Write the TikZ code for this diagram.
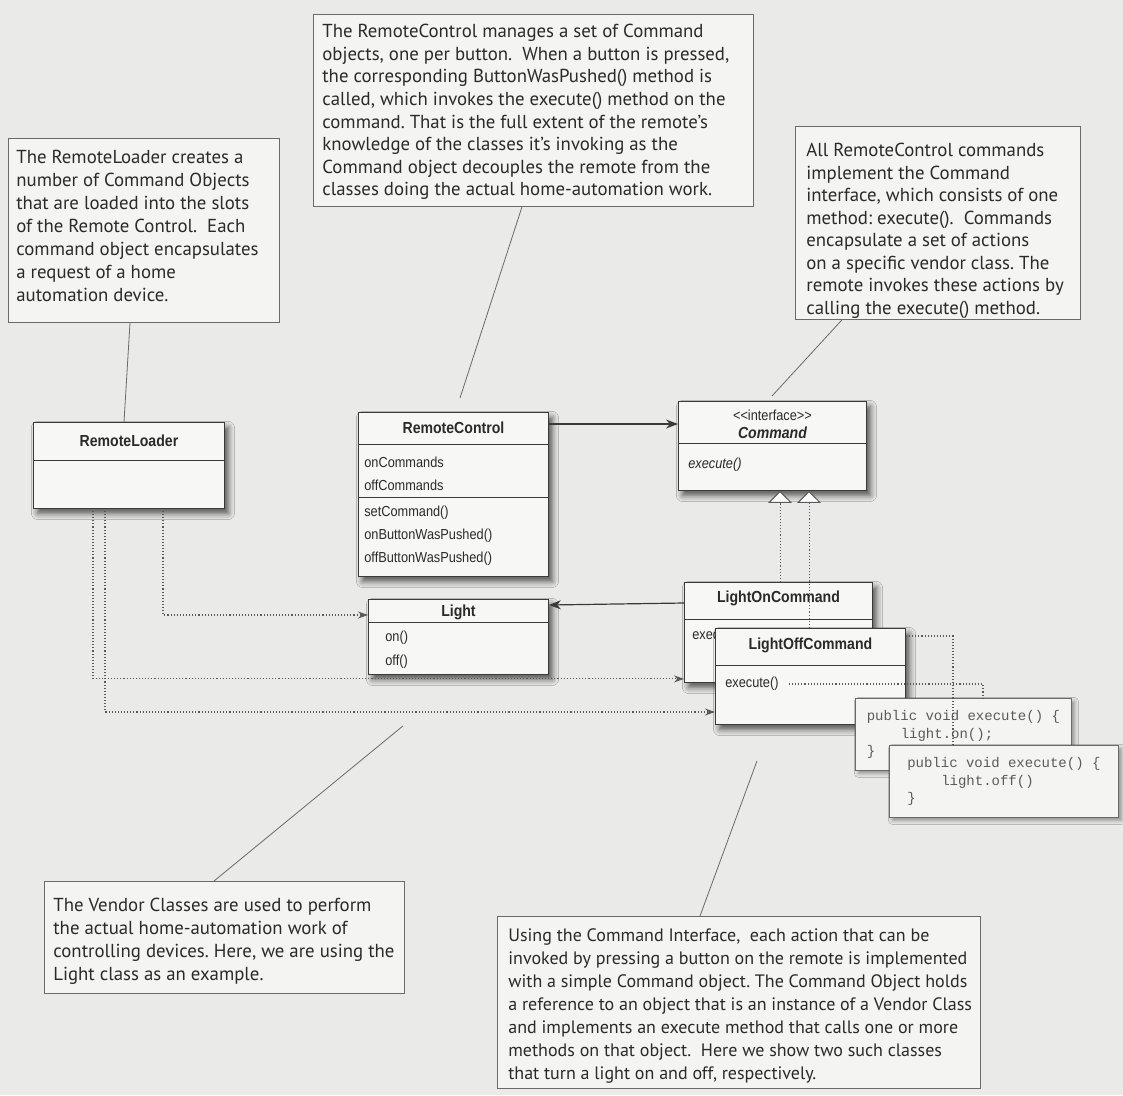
\documentclass[tikz,border=0pt]{standalone}
\usepackage{fontspec}
\setmainfont{PT Sans}
\newfontfamily\umlfont[FakeStretch=0.88]{Liberation Sans}
\newfontfamily\codefont{Liberation Mono}
\usetikzlibrary{arrows.meta,positioning,calc,shadows.blur}
\definecolor{pagebg}{HTML}{EAEAE8}
\definecolor{notefill}{HTML}{F4F4F2}
\definecolor{boxfill}{HTML}{F7F7F5}
\definecolor{boxline}{HTML}{3A3A3A}
\definecolor{noteline}{HTML}{6A6A6A}
\definecolor{dotline}{HTML}{5A5A5A}
\definecolor{ink}{HTML}{2A2A2A}
\definecolor{codeink}{HTML}{5A5A5A}
\frenchspacing
\tikzset{
  every picture/.style={line width=0.7pt},
  cbox/.style={draw=boxline, fill=boxfill, line width=0.9pt, inner sep=0pt, anchor=north west,
               blur shadow={shadow xshift=4pt, shadow yshift=-5pt, shadow opacity=65, shadow blur radius=6pt}},
  ctitle/.style={font=\umlfont\bfseries\fontsize{16}{18}\selectfont, text=ink, inner sep=0pt},
  cmember/.style={font=\umlfont\fontsize{14.5}{16}\selectfont, text=ink, inner sep=0pt, anchor=west},
  csep/.style={draw=boxline, line width=0.9pt},
  cnote/.style={draw=noteline, fill=notefill, line width=0.8pt, anchor=north west, inner sep=0pt},
  cnotetext/.style={anchor=north west, align=left, inner sep=0pt, text=ink,
                    font=\fontsize{18.8}{23}\selectfont},
  ccode/.style={draw=noteline, fill=notefill, line width=0.8pt, anchor=north west, align=left,
                inner xsep=9pt, inner ysep=0pt, text=codeink, font=\codefont\fontsize{14}{17.5}\selectfont,
                blur shadow={shadow xshift=3pt, shadow yshift=-3pt, shadow opacity=40, shadow blur radius=4pt}},
  ccall/.style={draw=noteline, line width=0.8pt},
  cassoc/.style={draw=boxline, line width=1.2pt, -{Stealth[length=12pt,width=9pt]}},
  cdep/.style={draw=dotline, line width=1.1pt, dash pattern=on 1.1pt off 2pt, -{Stealth[length=10pt,width=7pt]}},
  cgen/.style={draw=dotline, line width=1pt, dash pattern=on 1.1pt off 2pt,
               -{Triangle[length=12pt,width=24pt,fill=white]}},
}

\begin{document}
\begin{tikzpicture}[x=1pt,y=-1pt]
  \useasboundingbox (0,0) rectangle (1123,1095);
  \fill[pagebg] (0,0) rectangle (1123,1095);

  % notes
  \node[cnote, minimum width=271pt, minimum height=184pt] (nA) at (8,138) {};
  \node[cnotetext] (nAt) at ($(nA.north west)+(8,12)$)
    {The RemoteLoader creates a\\number of Command Objects\\that are loaded into the slots\\
     of the Remote Control.\ \ Each\\command object encapsulates\\a request of a home\\automation device.};
  \node[cnote, minimum width=440pt, minimum height=192pt] (nB) at (313,14) {};
  \node[cnotetext, font=\fontsize{18.8}{22.6}\selectfont] (nBt) at ($(nB.north west)+(9,10)$)
    {The RemoteControl manages a set of Command\\objects, one per button.\ \ When a button is pressed,\\
     the corresponding ButtonWasPushed() method is\\called, which invokes the execute() method on the\\
     command. That is the full extent of the remote’s\\knowledge of the classes it’s invoking as the\\
     Command object decouples the remote from the\\classes doing the actual home-automation work.};
  \node[cnote, minimum width=285pt, minimum height=193pt] (nC) at (795,126) {};
  \node[cnotetext, font=\fontsize{18.8}{22.5}\selectfont] (nCt) at ($(nC.north west)+(11,17)$)
    {All RemoteControl commands\\implement the Command\\interface, which consists of one\\
     method: execute().\ \ Commands\\encapsulate a set of actions\\on a specific vendor class. The\\
     remote invokes these actions by\\calling the execute() method.};
  \node[cnote, minimum width=360pt, minimum height=112pt] (nD) at (44,881) {};
  \node[cnotetext] (nDt) at ($(nD.north west)+(9,17)$)
    {The Vendor Classes are used to perform\\the actual home-automation work of\\
     controlling devices. Here, we are using the\\Light class as an example.};
  \node[cnote, minimum width=483pt, minimum height=172pt] (nE) at (497,916) {};
  \node[cnotetext, font=\fontsize{18}{23}\selectfont] (nEt) at ($(nE.north west)+(11,12)$)
    {Using the Command Interface,\ \ each action that can be\\invoked by pressing a button on the remote is implemented\\
     with a simple Command object. The Command Object holds\\a reference to an object that is an instance of a Vendor Class\\
     and implements an execute method that calls one or more\\methods on that object.\ \ Here we show two such classes\\
     that turn a light on and off, respectively.};

  % classes
  \node[cbox, minimum width=191pt, minimum height=86pt] (rl) at (33,422) {};
  \node[ctitle] (rlt) at ($(rl.north)+(0,19)$) {RemoteLoader};
  \draw[csep] ($(rl.north west)+(0,38)$) -- ($(rl.north east)+(0,38)$);

  \node[cbox, minimum width=190pt, minimum height=164pt] (rc) at (358,412) {};
  \node[ctitle] (rct) at ($(rc.north)+(0,16)$) {RemoteControl};
  \draw[csep] ($(rc.north west)+(0,32)$) -- ($(rc.north east)+(0,32)$);
  \node[cmember] (rc1) at ($(rc.north west)+(6,50)$) {onCommands};
  \node[cmember] (rc2) at ($(rc.north west)+(6,73)$) {offCommands};
  \draw[csep] ($(rc.north west)+(0,85)$) -- ($(rc.north east)+(0,85)$);
  \node[cmember] (rc3) at ($(rc.north west)+(6,101)$) {setCommand()};
  \node[cmember] (rc4) at ($(rc.north west)+(6,124)$) {onButtonWasPushed()};
  \node[cmember] (rc5) at ($(rc.north west)+(6,147)$) {offButtonWasPushed()};

  \node[cbox, minimum width=188pt, minimum height=89pt] (cmd) at (678,401) {};
  \node[cmember, anchor=center] (cmds) at ($(cmd.north)+(0,14)$) {<{}<interface>{}>};
  \node[ctitle, font=\umlfont\bfseries\itshape\fontsize{16}{18}\selectfont] (cmdt) at ($(cmd.north)+(0,32)$) {Command};
  \draw[csep] ($(cmd.north west)+(0,42)$) -- ($(cmd.north east)+(0,42)$);
  \node[cmember, font=\umlfont\itshape\fontsize{14.5}{16}\selectfont] (cmdx) at ($(cmd.north west)+(10,64)$) {execute()};

  \node[cbox, minimum width=180pt, minimum height=75pt] (light) at (368,599) {};
  \node[ctitle] (lightt) at ($(light.north)+(0,13)$) {Light};
  \draw[csep] ($(light.north west)+(0,23)$) -- ($(light.north east)+(0,23)$);
  \node[cmember] (light1) at ($(light.north west)+(17,39)$) {on()};
  \node[cmember] (light2) at ($(light.north west)+(17,63)$) {off()};

  \draw[cassoc] ($(rc.north east)+(0,12)$) -- ($(cmd.north west)+(0,23)$);

  \node[cbox, minimum width=188pt, minimum height=100pt] (lon) at (684,582) {};
  \node[ctitle] (lont) at ($(lon.north)+(0,16)$) {LightOnCommand};
  \draw[csep] ($(lon.north west)+(0,37)$) -- ($(lon.north east)+(0,37)$);
  \node[cmember] (lonx) at ($(lon.north west)+(8,54)$) {execute()};

  \draw[cassoc] ($(lon.north west)+(0,21)$) -- ($(light.north east)+(0,6)$);
  \draw[cgen] ($(lon.north west)+(96,0)$) -- ($(cmd.south west)+(102,0)$);
  \draw[cgen] ($(lon.north west)+(125,46)$) -- ($(cmd.south west)+(131,0)$);

  \node[cbox, minimum width=190pt, minimum height=96pt] (loff) at (715,628) {};
  \node[ctitle] (lofft) at ($(loff.north)+(0,17)$) {LightOffCommand};
  \draw[csep] ($(loff.north west)+(0,37)$) -- ($(loff.north east)+(0,37)$);
  \node[cmember] (loffx) at ($(loff.north west)+(10,56)$) {execute()};

  % dependencies from the loader
  \draw[cdep] ($(rl.south west)+(60,2)$) |- ($(lon.south west)+(0,-4)$);
  \draw[cdep] ($(rl.south west)+(72,2)$) |- ($(loff.north west)+(0,84)$);
  \draw[cdep] ($(rl.south west)+(130,2)$) |- ($(light.north west)+(0,16)$);

  % code of execute()
  \node[ccode, minimum width=216pt, minimum height=72pt] (k1) at (855,698)
    {public void execute() \{\\\hspace*{34pt}light.on();\\\}};
  \draw[cdep, -] ($(loffx.east)+(10,0)$) -| ($(k1.north west)+(128,0)$);
  \draw[cdep, -] (lonx -| loff.east) -| ($(k1.north west)+(98,47)$);
  \node[ccode, minimum width=229pt, minimum height=72pt] (k2) at (889,745)
    {public void execute() \{\\\hspace*{34pt}light.off()\\\}};

  % callout lines
  \coordinate (rcTip) at ($(rc.north west)+(102,-14)$);
  \coordinate (cmdTip) at ($(cmd.north west)+(94,-5)$);
  \coordinate (lightTip) at ($(light.south west)+(35,51)$);
  \coordinate (loffTip) at ($(loff.south west)+(42,36)$);
  \draw[ccall] ($(nA.south west)+(122,0)$) -- ($(rl.north west)+(91,0)$);
  \draw[ccall] ($(nB.south west)+(209,0)$) -- (rcTip);
  \draw[ccall] ($(nC.south west)+(47,0)$) -- (cmdTip);
  \draw[ccall] ($(nD.north west)+(170,0)$) -- (lightTip);
  \draw[ccall] ($(nE.north west)+(203,0)$) -- (loffTip);
\end{tikzpicture}
\end{document}
